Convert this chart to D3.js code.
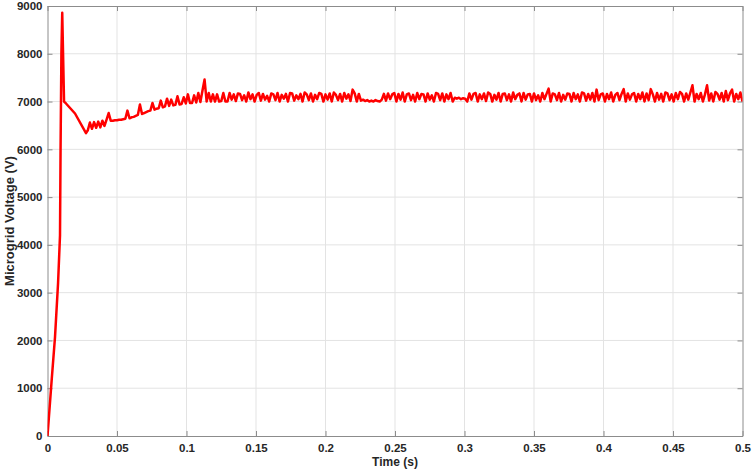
<!DOCTYPE html>
<html><head><meta charset="utf-8">
<script src="https://cdn.jsdelivr.net/npm/d3@7/dist/d3.min.js"></script>
<style>
html,body{margin:0;padding:0;background:#fff;}
text{font-family:"Liberation Sans",Arial,Helvetica,sans-serif;font-weight:bold;fill:#262626;}
</style></head>
<body><svg id="chart" width="754" height="472"></svg>
<script>
// ---- data ----
const xTicks = [0, 0.05, 0.1, 0.15, 0.2, 0.25, 0.3, 0.35, 0.4, 0.45, 0.5];
const xTickLabels = ["0", "0.05", "0.1", "0.15", "0.2", "0.25", "0.3", "0.35", "0.4", "0.45", "0.5"];
const yTicks = [0, 1000, 2000, 3000, 4000, 5000, 6000, 7000, 8000, 9000];
const xLabel = "Time (s)";
const yLabel = "Microgrid Voltage (V)";

// start-up transient (explicit time / voltage pairs)
const startTime = [0, 0.0030, 0.0054, 0.0076, 0.0090, 0.0094, 0.0100, 0.0106, 0.0112, 0.0119, 0.0133, 0.0198, 0.0277];
const startVolt = [0, 1170, 2070, 3200, 4200, 6000, 8000, 8860, 8000, 7000, 6960, 6750, 6340];

// recovery after the dip: first sample at recoveryStart, spacing sampleStep
const sampleStep = 0.0015;
const recoveryStart = 0.029;
const recoveryVolt = [
  6400,6560,6430,6570,6450,6580,6460,6600,6490,6620,
  6760,6600,6600,6610,6610,6620,6620,6630,6640,6810,
  6650,6670,6680,6700,6720,6940,6740,6760,6780,6800,
  6810,6970,6830,6850,6860,7020,6880,6900,7060,6910,
  7040,6920,6930,7110,6940,6950,7090,6960,7150,6970,
  6970,7130,6980,7180,6990,7230,7460,7000,7180,7000,
  7150,7000,7150,7000,7010,7180,7000
];
// steady state ripple: first sample at steadyStart, same spacing
const steadyStart = 0.1295;
const steadyVolt = [
  7000,7180,7040,7150,7010,7170,7160,7030,7130,7000,
  7190,7050,7150,7000,7140,7180,7020,7160,7040,7120,
  7000,7170,7150,7030,7180,7000,7140,7060,7160,7000,
  7180,7170,7020,7130,7050,7160,7000,7190,7150,7030,
  7170,7000,7140,7050,7180,7160,7000,7150,7040,7170,
  7000,7190,7140,7030,7160,7000,7180,7060,7150,7010,
  7250,7170,7000,7160,7020,7040,7010,7030,7000,7020,
  7000,7030,7010,7000,7040,7160,7020,7170,7050,7150,
  7180,7000,7160,7040,7190,7000,7150,7170,7030,7140,
  7000,7180,7050,7160,7150,7000,7170,7040,7130,7000,
  7180,7160,7030,7170,7000,7150,7050,7180,7000,7080,
  7060,7080,7050,7070,7060,7000,7170,7040,7160,7180,
  7000,7150,7050,7170,7010,7190,7160,7000,7140,7040,
  7180,7000,7160,7170,7030,7150,7000,7190,7050,7140,
  7170,7000,7180,7040,7150,7160,7000,7170,7030,7130,
  7000,7180,7050,7160,7270,7000,7170,7150,7030,7180,
  7000,7140,7040,7170,7160,7000,7180,7050,7150,7000,
  7190,7170,7020,7160,7040,7180,7000,7250,7030,7150,
  7170,7000,7160,7050,7190,7000,7140,7180,7030,7160,
  7260,7000,7170,7040,7150,7180,7000,7160,7050,7190,
  7000,7170,7030,7260,7150,7000,7180,7040,7160,7000,
  7190,7170,7030,7150,7000,7180,7050,7200,7160,7000,
  7170,7040,7190,7340,7000,7160,7050,7180,7000,7150,
  7340,7020,7170,7000,7200,7160,7040,7180,7000,7220,
  7030,7170,7250,7000,7160,7050,7190,7000
];

// ---- chart ----
const svg = d3.select("#chart");
const L = 47.5, R = 742.5, T = 6, B = 436;
const x = d3.scaleLinear().domain([0, 0.5]).range([L, R]);
const y = d3.scaleLinear().domain([0, 9000]).range([B, T]);

const pts = startTime.map((t, i) => [t, startVolt[i]])
  .concat(recoveryVolt.map((v, i) => [recoveryStart + i * sampleStep, v]))
  .concat(steadyVolt.map((v, i) => [steadyStart + i * sampleStep, v]));

// grid
const grid = svg.append("g");
grid.selectAll("line.vx").data(xTicks.slice(1, -1)).enter().append("line")
  .attr("x1", d => x(d)).attr("x2", d => x(d)).attr("y1", T).attr("y2", B)
  .attr("stroke", "#e3e3e3").attr("stroke-width", 1);
grid.selectAll("line.hy").data(yTicks.slice(1, -1)).enter().append("line")
  .attr("x1", L).attr("x2", R).attr("y1", d => y(d)).attr("y2", d => y(d))
  .attr("stroke", "#e3e3e3").attr("stroke-width", 1);

// box axes
const axisColor = "#8c8c8c";
const xb = svg.append("g").attr("transform", `translate(0,${B})`)
  .call(d3.axisBottom(x).tickValues(xTicks).tickFormat((d, i) => xTickLabels[i]).tickSizeInner(-5).tickSizeOuter(0).tickPadding(8));
const yl = svg.append("g").attr("transform", `translate(${L},0)`)
  .call(d3.axisLeft(y).tickValues(yTicks).tickFormat(d3.format("d")).tickSizeInner(-5).tickSizeOuter(0).tickPadding(5));
const xt = svg.append("g").attr("transform", `translate(0,${T})`)
  .call(d3.axisTop(x).tickValues(xTicks).tickFormat("").tickSizeInner(-5).tickSizeOuter(0));
const yr = svg.append("g").attr("transform", `translate(${R},0)`)
  .call(d3.axisRight(y).tickValues(yTicks).tickFormat("").tickSizeInner(-5).tickSizeOuter(0));
[xb, yl, xt, yr].forEach(g => {
  g.selectAll("path").attr("stroke", axisColor).attr("stroke-width", 1);
  g.selectAll("line").attr("stroke", axisColor);
  g.selectAll("text").attr("font-size", "11.5px").attr("fill", "#262626")
    .attr("font-family", "'Liberation Sans', Arial, sans-serif").attr("font-weight", "bold");
});

// clip
svg.append("clipPath").attr("id", "clip").append("rect")
  .attr("x", L).attr("y", T - 2).attr("width", R - L).attr("height", B - T + 4);

svg.append("path").datum(pts)
  .attr("clip-path", "url(#clip)")
  .attr("fill", "none").attr("stroke", "#ff0000").attr("stroke-width", 2.5)
  .attr("stroke-linejoin", "round")
  .attr("d", d3.line().x(d => x(d[0])).y(d => y(d[1])));

// labels
svg.append("text").attr("x", (L + R) / 2).attr("y", 466).attr("text-anchor", "middle")
  .attr("font-size", "12px").text(xLabel);
svg.append("text").attr("transform", `translate(14,${(T + B) / 2}) rotate(-90)`)
  .attr("text-anchor", "middle").attr("font-size", "13px").text(yLabel);
</script></body></html>
